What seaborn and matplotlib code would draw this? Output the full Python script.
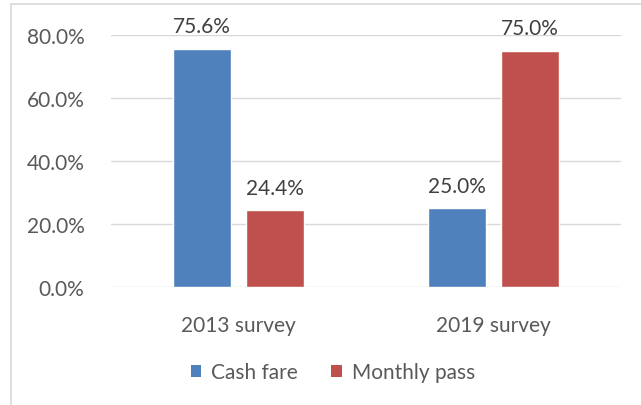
import matplotlib
matplotlib.use("Agg")
import matplotlib.pyplot as plt
import seaborn as sns
import pandas as pd
from matplotlib.patches import Rectangle, Patch

surveys = ["2013 survey", "2019 survey"]
fare_types = ["Cash fare", "Monthly pass"]
cash_fare = [75.6, 25.0]
monthly_pass = [24.4, 75.0]
y_ticks = [0, 20, 40, 60, 80]

colors = {"Cash fare": "#4F81BD", "Monthly pass": "#C0504D"}

df = pd.DataFrame({
    "survey": surveys * 2,
    "fare": [fare_types[0]] * 2 + [fare_types[1]] * 2,
    "share": cash_fare + monthly_pass,
})

sns.set_theme(style="white")
plt.rcParams["font.family"] = ["Lato", "DejaVu Sans"]

fig = plt.figure(figsize=(6.41, 4.06), dpi=100)
ax = fig.add_axes([111 / 641, 118 / 406, 510 / 641, 252 / 406])

sns.barplot(data=df, x="survey", y="share", hue="fare", order=surveys,
            hue_order=fare_types, palette=colors, width=0.573, gap=0.205,
            saturation=1, legend=False, ax=ax)

ax.set_ylim(0, 80)
ax.set_xlim(-0.5, 1.5)
ax.set_yticks(y_ticks)
ax.set_yticklabels([f"{v:.1f}%" for v in y_ticks])
ax.yaxis.grid(True, color="#D9D9D9", linewidth=1.0)
ax.set_axisbelow(True)
for s in ax.spines.values():
    s.set_visible(False)
ax.set_xlabel("")
ax.set_ylabel("")
ax.tick_params(axis="y", labelsize=15, colors="#595959", pad=19, length=0)
ax.tick_params(axis="x", labelsize=15, colors="#595959", pad=20, length=0)

for container in ax.containers:
    ax.bar_label(container, labels=[f"{b.get_height():.1f}%" for b in container],
                 padding=9, fontsize=15, color="#404040")

handles = [Patch(facecolor=colors[f], edgecolor="none") for f in fare_types]
fig.legend(handles, fare_types, loc="center", bbox_to_anchor=(333 / 641, 1 - 373 / 406),
           ncol=2, frameon=False, fontsize=15, handlelength=0.5, handleheight=0.5,
           handletextpad=0.5, columnspacing=1.6, labelcolor="#595959")

fig.patches.append(Rectangle((11 / 641, -0.1), 1.2, 1 - 5 / 406 + 0.1,
                             transform=fig.transFigure, fill=False,
                             edgecolor="#D9D9D9", linewidth=1.2))

fig.savefig("out.png", dpi=100, facecolor="white")
